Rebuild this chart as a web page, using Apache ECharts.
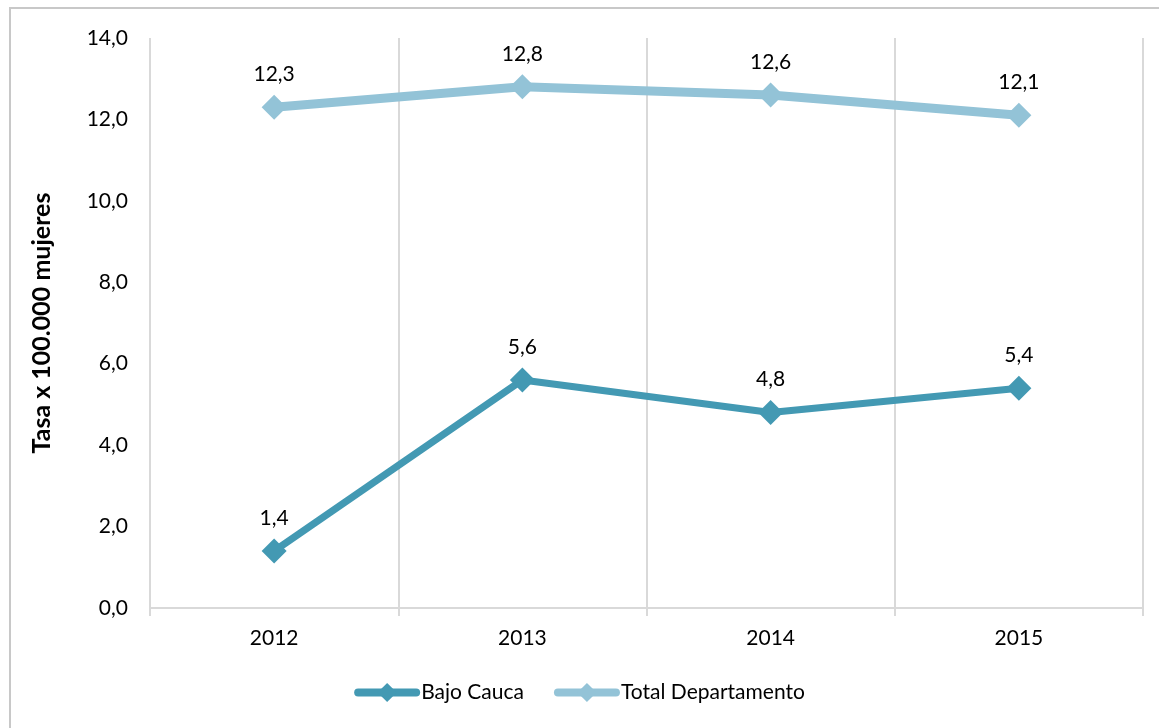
<!DOCTYPE html>
<html>
<head>
<meta charset="utf-8">
<script src="https://cdn.jsdelivr.net/npm/echarts@6/dist/echarts.min.js"></script>
<style>
  html, body { margin: 0; padding: 0; background: #fff; }
  #chart { width: 1159px; height: 728px; }
</style>
</head>
<body>
<div id="chart"></div>
<script>
  const years = ['2012', '2013', '2014', '2015'];
  const bajoCauca = [1.4, 5.6, 4.8, 5.4];
  const totalDepartamento = [12.3, 12.8, 12.6, 12.1];
  const yTicks = [0, 2, 4, 6, 8, 10, 12, 14];

  const fmt = v => Number(v).toFixed(1).replace('.', ',');
  const font = 'Lato, "Open Sans", sans-serif';

  const chart = echarts.init(document.getElementById('chart'));
  chart.setOption({
    animation: false,
    textStyle: { fontFamily: font },
    graphic: [{
      type: 'rect',
      shape: { x: 10, y: 8, width: 1170, height: 740 },
      style: { fill: 'none', stroke: '#c8c8c8', lineWidth: 2 }
    }],
    grid: { left: 150, right: 16, top: 38, bottom: 120 },
    legend: {
      bottom: 20,
      left: 'center',
      itemWidth: 58,
      itemHeight: 24,
      itemGap: 30,
      lineStyle: { width: 8, cap: 'round' },
      textStyle: { fontSize: 21, color: '#000', fontFamily: font },
      data: ['Bajo Cauca', 'Total Departamento']
    },
    xAxis: {
      type: 'category',
      data: years,
      boundaryGap: true,
      axisLine: { lineStyle: { color: '#d9d9d9', width: 2 } },
      axisTick: { show: true, length: 8, lineStyle: { color: '#d9d9d9', width: 2 } },
      splitLine: { show: true, lineStyle: { color: '#d9d9d9', width: 2 } },
      axisLabel: { fontSize: 21, color: '#000', margin: 20, fontFamily: font }
    },
    yAxis: {
      type: 'value',
      min: yTicks[0],
      max: yTicks[yTicks.length - 1],
      interval: 2,
      name: 'Tasa x 100.000 mujeres',
      nameLocation: 'middle',
      nameGap: 96,
      nameTextStyle: { fontSize: 25, fontWeight: 'bold', color: '#000', fontFamily: font },
      axisLine: { show: false },
      axisTick: { show: false },
      splitLine: { show: false },
      axisLabel: { fontSize: 21, color: '#000', margin: 22, formatter: fmt, fontFamily: font }
    },
    series: [
      {
        name: 'Bajo Cauca',
        type: 'line',
        data: bajoCauca,
        symbol: 'diamond',
        symbolSize: 25,
        color: '#4399b3',
        lineStyle: { width: 7, color: '#4399b3' },
        itemStyle: { color: '#4399b3' },
        label: {
          show: true, position: 'top', distance: 10,
          fontSize: 21, color: '#000', formatter: p => fmt(p.value), fontFamily: font
        }
      },
      {
        name: 'Total Departamento',
        type: 'line',
        data: totalDepartamento,
        symbol: 'diamond',
        symbolSize: 25,
        color: '#93c3d7',
        lineStyle: { width: 9, color: '#93c3d7' },
        itemStyle: { color: '#93c3d7' },
        label: {
          show: true, position: 'top', distance: 10,
          fontSize: 21, color: '#000', formatter: p => fmt(p.value), fontFamily: font
        }
      }
    ]
  });
</script>
</body>
</html>
